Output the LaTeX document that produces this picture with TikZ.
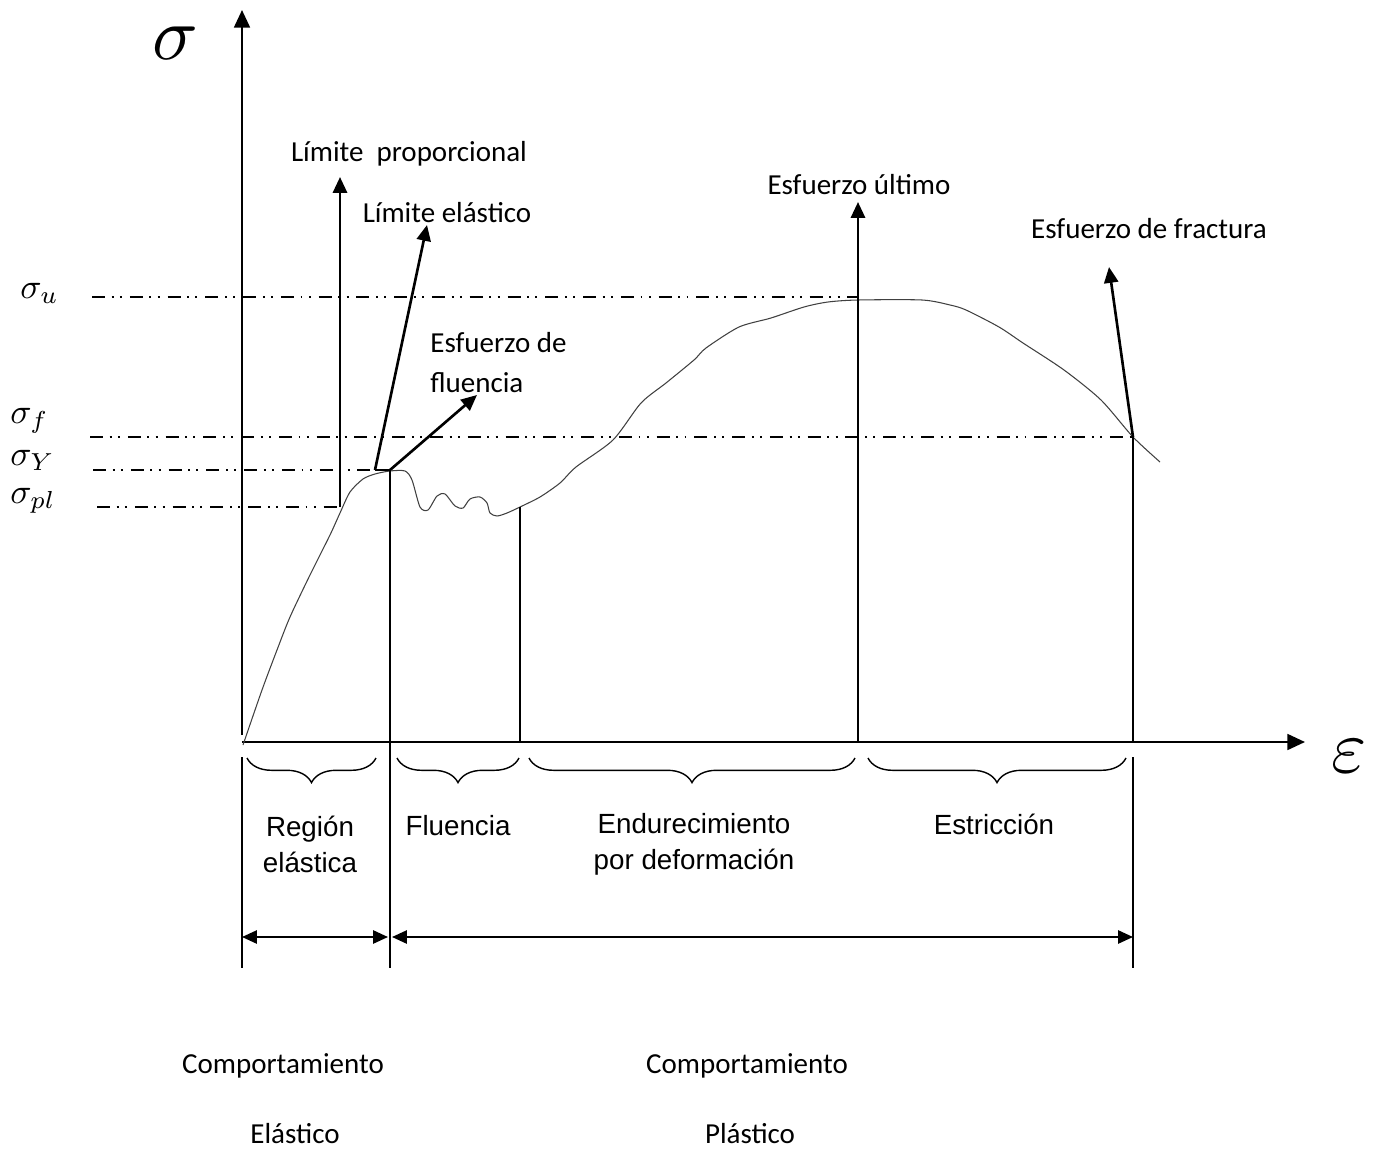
\documentclass[tikz,border=0pt]{standalone}
\usepackage{graphicx}
\usepackage{fontspec}
\setmainfont{Carlito}
\newfontfamily\arialfont{Liberation Sans}
\usetikzlibrary{arrows.meta,decorations.pathreplacing}

\newcommand{\bigsym}[1]{\scalebox{4.3}{$#1$}}
\newcommand{\sigsub}[1]{\scalebox{2}{$\sigma_{#1}$}}

\tikzset{
  axis/.style={line width=1.3pt, -{Triangle[length=10pt,width=9pt]}},
  lblarrow/.style={line width=1.5pt, -{Triangle[length=9pt,width=8pt]}},
  spanarrow/.style={line width=1.2pt, {Triangle[length=8.5pt,width=7.5pt]}-{Triangle[length=8.5pt,width=7.5pt]}},
  refline/.style={line width=1pt, dash pattern=on 7.4pt off 3.8pt on 1.1pt off 3.6pt on 1.1pt off 4.5pt},
  bound/.style={line width=1pt},
  curve/.style={line width=0.6pt, black!75},
  bracestyle/.style={line width=0.8pt, decorate, decoration={brace, mirror, amplitude=14pt}},
  calib/.style={font=\fontsize{16.5}{20}\selectfont, inner sep=0pt},
  arial/.style={font=\arialfont\fontsize{15.8}{20.4}\selectfont, align=center, inner sep=0pt},
  sym/.style={inner sep=0pt, anchor=base west}
}

\begin{document}
\begin{tikzpicture}[x=0.02cm, y=-0.02cm]
    \useasboundingbox (0,0) rectangle (1377,1149);

    % Key points of the curve
    \coordinate (O) at (242,742);
    \coordinate (ytop) at (242,10);
    \coordinate (ybot) at (242,735);
    \coordinate (xend) at (1305,742);
    \coordinate (plCorner) at (340,507);
    \coordinate (plTip) at (340,177);
    \coordinate (elBase) at (375,470);
    \coordinate (elTip) at (427,225);
    \coordinate (yBase) at (390,470);
    \coordinate (yTip) at (477,395);
    \coordinate (uBase) at (858,742);
    \coordinate (uTip) at (858,202);
    \coordinate (frBase) at (1133,437);
    \coordinate (frAxis) at (1133,742);
    \coordinate (frTip) at (1109,267);
    \coordinate (flEnd) at (520,507);
    \coordinate (flAxis) at (520,742);

    % Draw the axes
    \draw[axis] (ybot) -- (ytop);
    \draw[axis] (O) -- (xend);
    \node[sym] (sigma) at (152,60) {\bigsym{\sigma}};
    \node[sym] (eps) at (1331,772) {\bigsym{\varepsilon}};

    % Stress levels
    \node[sym] (su) at (20,298) {\sigsub{u}};
    \node[sym] (sf) at (10,423) {\sigsub{f}};
    \node[sym] (sy) at (10,465) {\sigsub{Y}};
    \node[sym] (spl) at (10,503) {\sigsub{pl}};
    \draw[refline] (92,297) -- (858,297);
    \draw[refline] (90,437) -- (frBase);
    \draw[refline] (93,470) -- (elBase);
    \draw[refline] (97,507) -- (plCorner);

    % Draw the stress-strain curve
    \draw[curve] plot[smooth, tension=0.45] coordinates {
        (243,745) (262,690) (277,650) (290,617) (310,575) (330,535) (340,513)
        (350,492) (363,479) (375,474) (390,471) (405,471) (412,480) (420,507)
        (428,510) (437,496) (445,494) (455,506) (463,508) (470,499) (480,497)
        (487,503) (490,513) (497,516) (507,513) (520,507) (540,497) (560,483)
        (576,467) (613,440) (641,403) (666,383) (694,360) (706,348) (739,327)
        (771,318) (804,307) (828,302) (858,300) (922,300) (950,305) (966,310)
        (999,327) (1023,343) (1064,370) (1101,400) (1133,437) (1160,462)};

    % Draw the arrows to the labels
    \draw[lblarrow] (plCorner) -- (plTip);
    \draw[bound] (elBase) -- (yBase);
    \draw[lblarrow] (elBase) -- (elTip);
    \draw[lblarrow] (yBase) -- (yTip);
    \draw[lblarrow] (uBase) -- (uTip);
    \draw[bound] (frAxis) -- (frBase);
    \draw[lblarrow] (frBase) -- (frTip);
    \draw[bound] (flAxis) -- (flEnd);

    \node[calib] (lprop) at (409,154) {Límite \ proporcional};
    \node[calib] (lelas) at (447,213) {Límite elástico};
    \node[calib, anchor=west] (efl1) at (430,343) {Esfuerzo de};
    \node[calib, anchor=west] (efl2) at (430,383) {fluencia};
    \node[calib] (eult) at (859,185) {Esfuerzo último};
    \node[calib] (efrac) at (1149,229) {Esfuerzo de fractura};

    % Region boundaries below the axis
    \draw[bound] (yBase) -- (390,968);
    \draw[bound] (242,757) -- (242,968);
    \draw[bound] (1133,757) -- (1133,968);

    % Draw the braces
    \draw[bracestyle] (247,758) -- (376,758);
    \draw[bracestyle] (397,758) -- (519,758);
    \draw[bracestyle] (529,758) -- (855,758);
    \draw[bracestyle] (868,758) -- (1126,758);

    \node[arial] (relas) at (310,844) {Región\\elástica};
    \node[arial] (fluen) at (458,826) {Fluencia};
    \node[arial] (endur) at (694,844) {Endurecimiento\\por deformación};
    \node[arial] (estri) at (994,824) {Estricción};

    % Behaviour spans
    \coordinate (e1) at (242,937);
    \coordinate (e2) at (388,937);
    \coordinate (p1) at (392,937);
    \coordinate (p2) at (1133,937);
    \draw[spanarrow] (e1) -- (e2);
    \draw[spanarrow] (p1) -- (p2);

    \node[calib] (comp1) at (283,1066) {Comportamiento};
    \node[calib] (elast) at (295,1134) {Elástico};
    \node[calib] (comp2) at (747,1066) {Comportamiento};
    \node[calib] (plast) at (750,1134) {Plástico};

\end{tikzpicture}
\end{document}
